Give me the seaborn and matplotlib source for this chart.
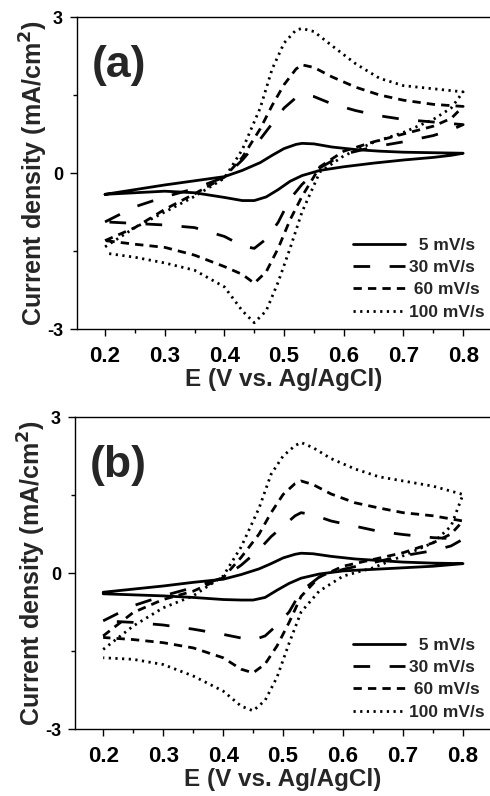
import pandas as pd
import seaborn as sns
import matplotlib.pyplot as plt
from matplotlib.ticker import MultipleLocator, FixedLocator

# ----------------------------------------------------
# data
# ----------------------------------------------------
rates = ["5 mV/s", "30 mV/s", "60 mV/s", "100 mV/s"]
legend_labels = ["  5 mV/s", "30 mV/s", " 60 mV/s", "100 mV/s"]

# forward (anodic) and reverse (cathodic) potentials, V vs Ag/AgCl
E_fwd = [0.20, 0.25, 0.30, 0.35, 0.40, 0.43, 0.46, 0.48, 0.50,
         0.52, 0.53, 0.55, 0.58, 0.62, 0.66, 0.70, 0.75, 0.80]
E_rev = [0.80, 0.78, 0.75, 0.70, 0.65, 0.60, 0.56, 0.53, 0.51,
         0.49, 0.47, 0.45, 0.43, 0.40, 0.35, 0.30, 0.25, 0.20]

# panel (a), current density in mA/cm2
a_fwd_5 = [-0.41, -0.32, -0.23, -0.15, -0.07, 0.05, 0.20, 0.34, 0.47,
           0.55, 0.57, 0.56, 0.50, 0.45, 0.42, 0.40, 0.39, 0.38]
a_rev_5 = [0.38, 0.34, 0.30, 0.25, 0.19, 0.12, 0.05, -0.05, -0.16,
           -0.32, -0.46, -0.53, -0.53, -0.47, -0.38, -0.35, -0.38, -0.41]
a_fwd_30 = [-0.94, -0.65, -0.46, -0.30, -0.08, 0.25, 0.65, 0.95, 1.25,
            1.45, 1.50, 1.47, 1.33, 1.20, 1.10, 1.03, 0.98, 0.93]
a_rev_30 = [0.93, 0.83, 0.72, 0.60, 0.50, 0.36, 0.10, -0.22, -0.50,
            -0.95, -1.27, -1.45, -1.40, -1.22, -1.05, -1.00, -0.97, -0.94]
a_fwd_60 = [-1.30, -1.05, -0.70, -0.40, -0.08, 0.30, 0.85, 1.30, 1.70,
            2.00, 2.08, 2.03, 1.85, 1.65, 1.50, 1.40, 1.32, 1.28]
a_rev_60 = [1.28, 1.05, 0.90, 0.75, 0.60, 0.42, 0.12, -0.45, -0.90,
            -1.45, -1.90, -2.12, -1.95, -1.80, -1.58, -1.43, -1.37, -1.30]
a_fwd_100 = [-1.42, -1.05, -0.75, -0.45, -0.10, 0.45, 1.25, 2.00, 2.50,
             2.75, 2.78, 2.72, 2.45, 2.10, 1.82, 1.68, 1.62, 1.56]
a_rev_100 = [1.56, 1.25, 1.03, 0.78, 0.59, 0.33, 0.02, -0.75, -1.45,
             -2.10, -2.65, -2.88, -2.65, -2.19, -1.87, -1.73, -1.62, -1.54]

# panel (b)
b_fwd_5 = [-0.37, -0.31, -0.25, -0.18, -0.12, -0.03, 0.08, 0.18, 0.29,
           0.36, 0.38, 0.37, 0.32, 0.27, 0.24, 0.21, 0.19, 0.18]
b_rev_5 = [0.18, 0.16, 0.13, 0.10, 0.07, 0.04, -0.02, -0.10, -0.20,
           -0.33, -0.47, -0.52, -0.52, -0.51, -0.47, -0.44, -0.42, -0.40]
b_fwd_30 = [-0.92, -0.63, -0.44, -0.28, -0.09, 0.15, 0.45, 0.70, 0.90,
            1.10, 1.16, 1.12, 1.00, 0.90, 0.80, 0.74, 0.68, 0.65]
b_rev_30 = [0.65, 0.52, 0.43, 0.33, 0.20, 0.07, -0.08, -0.35, -0.75,
            -1.00, -1.21, -1.29, -1.25, -1.18, -1.08, -1.00, -0.95, -0.92]
b_fwd_60 = [-1.21, -0.76, -0.51, -0.35, -0.09, 0.30, 0.75, 1.16, 1.51,
            1.72, 1.77, 1.70, 1.52, 1.35, 1.25, 1.16, 1.10, 1.00]
b_rev_60 = [1.00, 0.75, 0.58, 0.39, 0.26, 0.13, -0.08, -0.45, -0.95,
            -1.40, -1.75, -1.92, -1.85, -1.63, -1.44, -1.34, -1.28, -1.24]
b_fwd_100 = [-1.47, -1.02, -0.67, -0.44, -0.06, 0.50, 1.25, 1.90, 2.25,
             2.45, 2.51, 2.41, 2.20, 2.00, 1.85, 1.77, 1.67, 1.51]
b_rev_100 = [1.51, 0.90, 0.58, 0.33, 0.10, -0.06, -0.35, -0.75, -1.35,
             -2.00, -2.45, -2.65, -2.56, -2.27, -1.98, -1.76, -1.66, -1.63]

panels = {
    "(a)": [(a_fwd_5, a_rev_5), (a_fwd_30, a_rev_30),
            (a_fwd_60, a_rev_60), (a_fwd_100, a_rev_100)],
    "(b)": [(b_fwd_5, b_rev_5), (b_fwd_30, b_rev_30),
            (b_fwd_60, b_rev_60), (b_fwd_100, b_rev_100)],
}

line_styles = ["-", (0, (6, 7)), (0, (3, 2.2)), (0, (0.8, 1.6))]

# ----------------------------------------------------
# style
# ----------------------------------------------------
sns.set_theme(style="ticks")
plt.rcParams["font.family"] = ["Liberation Sans", "DejaVu Sans"]
plt.rcParams["font.weight"] = "bold"
plt.rcParams["axes.unicode_minus"] = False

fig = plt.figure(figsize=(4.9, 7.96), dpi=100)
positions = {"(a)": [77 / 490, 1 - 329 / 796, 413 / 490, 312 / 796],
             "(b)": [75 / 490, 1 - 729 / 796, 415 / 490, 312 / 796]}

for tag, curves in panels.items():
    ax = fig.add_axes(positions[tag])
    for rate, lab, ls, (fwd, rev) in zip(rates, legend_labels, line_styles, curves):
        df = pd.DataFrame({"E": E_fwd + E_rev, "j": fwd + rev})
        sns.lineplot(data=df, x="E", y="j", sort=False, estimator=None,
                     color="black", lw=2.0, linestyle=ls, label=lab, ax=ax)

    ax.set_xlim(0.153, 0.845)
    ax.set_ylim(-3, 3)
    ax.xaxis.set_major_locator(FixedLocator([0.2, 0.3, 0.4, 0.5, 0.6, 0.7, 0.8]))
    ax.xaxis.set_minor_locator(MultipleLocator(0.05))
    ax.yaxis.set_major_locator(FixedLocator([-3, 0, 3]))
    ax.yaxis.set_minor_locator(MultipleLocator(1.5))
    ax.set_xticklabels(["0.2", "0.3", "0.4", "0.5", "0.6", "0.7", "0.8"])
    ax.set_yticklabels(["-3", "0", "3"])
    ax.tick_params(axis="x", which="major", direction="out", length=5, width=1,
                   pad=7, labelsize=16, colors="black")
    ax.tick_params(axis="y", which="major", direction="out", length=5, width=1,
                   pad=5, labelsize=13, colors="black")
    ax.tick_params(which="minor", direction="out", length=3, width=1, colors="black")
    for lbl in ax.get_xticklabels() + ax.get_yticklabels():
        lbl.set_fontweight("bold")

    for side in ["left", "bottom", "top"]:
        ax.spines[side].set_linewidth(1.0)
        ax.spines[side].set_color("black")
    ax.spines["right"].set_visible(False)

    ax.set_xlabel("E (V vs. Ag/AgCl)", fontsize=17.5, fontweight="bold", labelpad=1)
    ax.set_ylabel("Current density (mA/cm$^\\mathbf{2}$)", fontsize=18, fontweight="bold")
    ax.yaxis.set_label_coords(-0.065, 0.5)

    ax.text(0.035, 0.845, tag, transform=ax.transAxes, fontsize=32,
            fontweight="bold", ha="left", va="center")

    leg = ax.legend(loc="lower right", bbox_to_anchor=(0.995, 0.018), frameon=False,
                    fontsize=12.5, handlelength=3.0, handletextpad=0.2,
                    labelspacing=0.42, borderpad=0.2, borderaxespad=0)
    for t in leg.get_texts():
        t.set_fontweight("bold")

plt.savefig("out.png", dpi=100)
